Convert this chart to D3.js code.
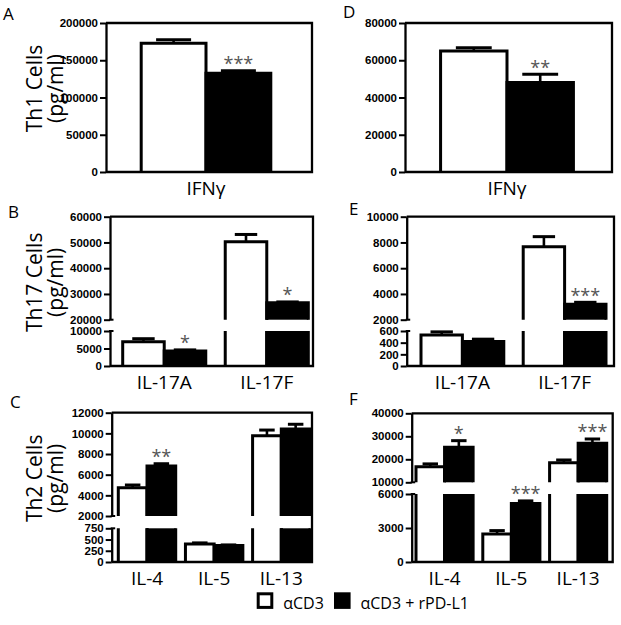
<!DOCTYPE html>
<html><head><meta charset="utf-8">
<script src="https://cdn.jsdelivr.net/npm/d3@7"></script>
<style>
body{margin:0;background:#fff;}
svg{display:block}
</style></head><body>
<svg id="chart" width="621" height="625"></svg>
<script>
// ---------------- DATA ----------------
const groups = ["αCD3", "αCD3 + rPD-L1"];
const yLabels = ["Th1 Cells", "Th17 Cells", "Th2 Cells"];
const yUnit = "(pg/ml)";

// Panel A (Th1)
const catsA = ["IFNγ"];
const ctrlA = [172700], ctrlErrA = [4800];
const pdl1A = [132500], pdl1ErrA = [3500];
const sigA = ["***"];
const ticksA = [0, 50000, 100000, 150000, 200000];

// Panel D (Th1)
const catsD = ["IFNγ"];
const ctrlD = [65000], ctrlErrD = [1700];
const pdl1D = [48000], pdl1ErrD = [4500];
const sigD = ["**"];
const ticksD = [0, 20000, 40000, 60000, 80000];

// Panel B (Th17)
const catsB = ["IL-17A", "IL-17F"];
const ctrlB = [6900, 50300], ctrlErrB = [900, 2800];
const pdl1B = [4300, 26600], pdl1ErrB = [300, 300];
const sigB = ["*", "*"];
const lowerTicksB = [0, 5000, 10000];
const upperTicksB = [20000, 30000, 40000, 50000, 60000];

// Panel E (Th17)
const catsE = ["IL-17A", "IL-17F"];
const ctrlE = [530, 7670], ctrlErrE = [55, 780];
const pdl1E = [420, 3200], pdl1ErrE = [40, 150];
const sigE = ["", "***"];
const lowerTicksE = [0, 200, 400, 600];
const upperTicksE = [2000, 4000, 6000, 8000, 10000];

// Panel C (Th2)
const catsC = ["IL-4", "IL-5", "IL-13"];
const ctrlC = [4740, 400, 9770], ctrlErrC = [260, 25, 550];
const pdl1C = [6850, 365, 10420], pdl1ErrC = [210, 15, 460];
const sigC = ["**", "", ""];
const lowerTicksC = [0, 250, 500, 750];
const upperTicksC = [2000, 4000, 6000, 8000, 10000, 12000];

// Panel F (Th2)
const catsF = ["IL-4", "IL-5", "IL-13"];
const ctrlF = [16800, 2480, 18500], ctrlErrF = [1200, 290, 1200];
const pdl1F = [25200, 5160, 26960], pdl1ErrF = [2900, 230, 1870];
const sigF = ["*", "***", "***"];
const lowerTicksF = [0, 3000, 6000];
const upperTicksF = [10000, 20000, 30000, 40000];

// ---------------- LAYOUT ----------------
const panels = [
  {letter:"A", lx:3, ly:20, row:0, cats:catsA, ctrl:ctrlA, ctrlErr:ctrlErrA, pdl1:pdl1A, pdl1Err:pdl1ErrA, sig:sigA,
   x0:106, x1:312, padL:20, padR:26, pi:0.19, yTop:23, yBottom:172, ticks:ticksA},
  {letter:"D", lx:343, ly:18, row:-1, cats:catsD, ctrl:ctrlD, ctrlErr:ctrlErrD, pdl1:pdl1D, pdl1Err:pdl1ErrD, sig:sigD,
   x0:405, x1:612, padL:20, padR:23, pi:0.19, yTop:23, yBottom:172, ticks:ticksD},
  {letter:"B", lx:8, ly:218, row:1, cats:catsB, ctrl:ctrlB, ctrlErr:ctrlErrB, pdl1:pdl1B, pdl1Err:pdl1ErrB, sig:sigB,
   x0:110, x1:313, padL:12.7, padR:4.7, pi:0.19, yTop:216.7, yUpperBottom:319.7, yLowerTop:331, yBottom:366,
   lowerTicks:lowerTicksB, upperTicks:upperTicksB},
  {letter:"E", lx:349, ly:215, row:-1, cats:catsE, ctrl:ctrlE, ctrlErr:ctrlErrE, pdl1:pdl1E, pdl1Err:pdl1ErrE, sig:sigE,
   x0:406.7, x1:614, padL:14.3, padR:8, pi:0.19, yTop:216.7, yUpperBottom:319.7, yLowerTop:331, yBottom:366,
   lowerTicks:lowerTicksE, upperTicks:upperTicksE},
  {letter:"C", lx:10, ly:408, row:2, cats:catsC, ctrl:ctrlC, ctrlErr:ctrlErrC, pdl1:pdl1C, pdl1Err:pdl1ErrC, sig:sigC,
   x0:111.7, x1:312, padL:6.6, padR:2, pi:0.145, yTop:412.7, yUpperBottom:516, yLowerTop:528.3, yBottom:562,
   lowerTicks:lowerTicksC, upperTicks:upperTicksC},
  {letter:"F", lx:349, ly:405, row:-1, cats:catsF, ctrl:ctrlF, ctrlErr:ctrlErrF, pdl1:pdl1F, pdl1Err:pdl1ErrF, sig:sigF,
   x0:411.7, x1:612.7, padL:4.3, padR:6, pi:0.145, yTop:413.3, yUpperBottom:482.3, yLowerTop:494, yBottom:562,
   lowerTicks:lowerTicksF, upperTicks:upperTicksF}
];

const svg = d3.select("#chart");
const TICKFONT = "bold 11.5px 'Liberation Sans', Arial, sans-serif";
const LABFONT = "'Open Sans', sans-serif";
const fills = ["#fff", "#000"];

function styleAxis(g) {
  g.select(".domain").attr("stroke", "#000").attr("stroke-width", 2.3);
  g.selectAll(".tick line").attr("stroke", "#000").attr("stroke-width", 2);
  g.selectAll(".tick text").style("font", TICKFONT).attr("fill", "#000");
}

function drawBarPart(g, x, w, yT, yB, closedTop, fill) {
  g.append("rect").attr("x", x).attr("y", yT).attr("width", w).attr("height", Math.max(0, yB - yT)).attr("fill", fill);
  const d = closedTop ? `M${x},${yB}V${yT}H${x + w}V${yB}` : `M${x},${yB}V${yT}M${x + w},${yT}V${yB}`;
  g.append("path").attr("d", d).attr("fill", "none").attr("stroke", "#000").attr("stroke-width", 3);
}

panels.forEach(p => {
  const g = svg.append("g");
  const broken = !!p.lowerTicks;
  const x = d3.scaleBand().domain(p.cats).range([p.x0 + p.padL, p.x1 - p.padR]).paddingInner(p.pi).paddingOuter(0);
  const xs = d3.scaleBand().domain(groups).range([0, x.bandwidth()]).padding(0);

  let yS, yL, yU, lowerMax, upperMin;
  if (broken) {
    lowerMax = d3.max(p.lowerTicks);
    upperMin = d3.min(p.upperTicks);
    yL = d3.scaleLinear().domain([0, lowerMax]).range([p.yBottom, p.yLowerTop]);
    yU = d3.scaleLinear().domain([upperMin, d3.max(p.upperTicks)]).range([p.yUpperBottom, p.yTop]);
  } else {
    yS = d3.scaleLinear().domain([0, d3.max(p.ticks)]).range([p.yBottom, p.yTop]);
  }
  const yPos = v => broken ? (v <= lowerMax ? yL(v) : yU(v)) : yS(v);

  const series = [
    {vals: p.ctrl, errs: p.ctrlErr},
    {vals: p.pdl1, errs: p.pdl1Err}
  ];
  const barsG = g.append("g");
  const errG = g.append("g");
  p.cats.forEach((c, i) => {
    series.forEach((s, k) => {
      const v = s.vals[i];
      const bx = x(c) + xs(groups[k]);
      const bw = xs.bandwidth();
      if (broken) {
        if (v <= lowerMax) {
          drawBarPart(barsG, bx, bw, yL(v), p.yBottom, true, fills[k]);
        } else {
          drawBarPart(barsG, bx, bw, p.yLowerTop, p.yBottom, false, fills[k]);
          if (v >= upperMin) drawBarPart(barsG, bx, bw, yU(v), p.yUpperBottom, true, fills[k]);
        }
      } else {
        drawBarPart(barsG, bx, bw, yS(v), p.yBottom, true, fills[k]);
      }
      const cx = bx + bw / 2;
      const yv = yPos(v), ye = yPos(v + s.errs[i]);
      errG.append("line").attr("x1", cx).attr("x2", cx).attr("y1", yv).attr("y2", ye)
        .attr("stroke", "#000").attr("stroke-width", 2.6);
      errG.append("line").attr("x1", cx - bw * 0.27).attr("x2", cx + bw * 0.27).attr("y1", ye).attr("y2", ye)
        .attr("stroke", "#000").attr("stroke-width", 3);
      if (k === 1 && p.sig[i]) {
        g.append("text").attr("x", cx).attr("y", ye - 0.5).attr("text-anchor", "middle")
          .style("font", "18px " + LABFONT).attr("fill", "#555").text(p.sig[i]);
      }
    });
  });

  g.append("path").attr("d", `M${p.x0},${p.yTop}H${p.x1}V${p.yBottom}H${p.x0}`)
    .attr("fill", "none").attr("stroke", "#000").attr("stroke-width", 2.3);

  const fmt = d3.format("d");
  if (broken) {
    const aU = g.append("g").attr("transform", `translate(${p.x0},0)`)
      .call(d3.axisLeft(yU).tickValues(p.upperTicks).tickSize(6).tickSizeOuter(0).tickPadding(2).tickFormat(fmt));
    const aL = g.append("g").attr("transform", `translate(${p.x0},0)`)
      .call(d3.axisLeft(yL).tickValues(p.lowerTicks).tickSize(6).tickSizeOuter(0).tickPadding(2).tickFormat(fmt));
    styleAxis(aU); styleAxis(aL);
    [p.yUpperBottom, p.yLowerTop].forEach(yy => {
      g.append("line").attr("x1", p.x0 - 1).attr("x2", p.x0 + 3.5).attr("y1", yy).attr("y2", yy)
        .attr("stroke", "#000").attr("stroke-width", 2);
    });
  } else {
    const a = g.append("g").attr("transform", `translate(${p.x0},0)`)
      .call(d3.axisLeft(yS).tickValues(p.ticks).tickSize(6).tickSizeOuter(0).tickPadding(2).tickFormat(fmt));
    styleAxis(a);
  }

  const ax = g.append("g").attr("transform", `translate(0,${p.yBottom})`)
    .call(d3.axisBottom(x).tickSize(0));
  ax.select(".domain").remove();
  ax.selectAll(".tick text").attr("y", 23).attr("dy", 0)
    .style("font", "19px " + LABFONT).attr("fill", "#000");

  svg.append("text").attr("x", p.lx).attr("y", p.ly).style("font", "17px " + LABFONT).attr("fill", "#000").text(p.letter);

  if (p.row >= 0) {
    const cy = (p.yTop + p.yBottom) / 2 - 9;
    const yl = svg.append("g");
    yl.append("text").attr("transform", `translate(42,${cy}) rotate(-90)`).attr("text-anchor", "middle")
      .style("font", "21px " + LABFONT).attr("fill", "#000").text(yLabels[p.row]);
    yl.append("text").attr("transform", `translate(63,${cy}) rotate(-90)`).attr("text-anchor", "middle")
      .style("font", "21px " + LABFONT).attr("fill", "#000").text(yUnit);
  }
});

const legendX = [256.7, 334];
const leg = svg.append("g").selectAll("g").data(groups).join("g")
  .attr("transform", (d, i) => `translate(${legendX[i]},592.3)`);
leg.append("rect").attr("x", 1.5).attr("y", 1.5).attr("width", 13.6).attr("height", 13.6)
  .attr("fill", (d, i) => fills[i]).attr("stroke", "#000").attr("stroke-width", 3);
leg.append("text").attr("x", 26.5).attr("y", 16.2).style("font", "16px " + LABFONT).attr("fill", "#000").text(d => d);
</script>
</body></html>
